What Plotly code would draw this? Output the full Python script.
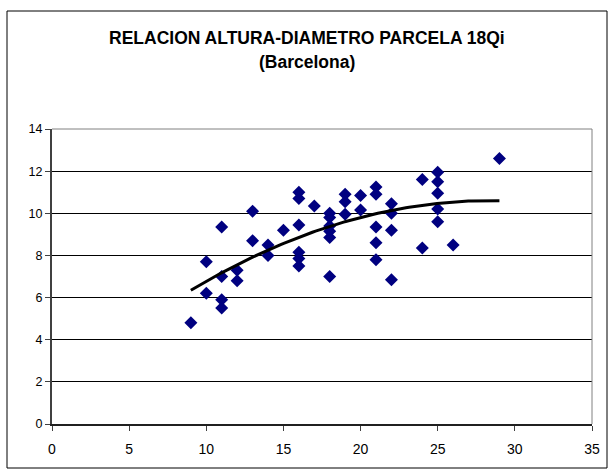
import numpy as np
import plotly.graph_objects as go

# Diameter (x) and height (y) observations
diametro = [9, 10, 10, 11, 11, 11, 11, 12, 12, 13, 13, 14, 14, 15,
            16, 16, 16, 16, 16, 16, 17, 18, 18, 18, 18, 18, 18,
            19, 19, 19, 20, 20, 21, 21, 21, 21, 21, 22, 22, 22, 22,
            24, 24, 25, 25, 25, 25, 25, 26, 29]
altura = [4.8, 7.7, 6.2, 9.35, 7.0, 5.9, 5.5, 7.3, 6.8, 10.1, 8.7, 8.5, 8.0, 9.2,
          11.0, 10.7, 9.45, 8.15, 7.85, 7.5, 10.35, 10.0, 9.8, 9.4, 9.15, 8.85, 7.0,
          10.9, 10.55, 9.95, 10.85, 10.15, 11.25, 10.9, 9.35, 8.6, 7.8, 10.45, 10.0, 9.2, 6.85,
          11.6, 8.35, 11.95, 11.5, 10.95, 10.2, 9.6, 8.5, 12.6]

x_ticks = [0, 5, 10, 15, 20, 25, 30, 35]
y_ticks = [0, 2, 4, 6, 8, 10, 12, 14]

titulo = "RELACION ALTURA-DIAMETRO PARCELA 18Qi"
subtitulo = "(Barcelona)"

# polynomial (order 2) trendline fitted from the data
coef = np.polyfit(diametro, altura, 2)
xt = np.linspace(min(diametro), max(diametro), 100)
yt = np.polyval(coef, xt)

W, H = 613, 474
L, R, T, B = 52, 21, 129, 50
PW, PH = W - L - R, H - T - B


def px(xp):
    return (xp - L) / PW


def py(yp):
    return (H - B - yp) / PH


fig = go.Figure()
fig.add_trace(go.Scatter(x=diametro, y=altura, mode="markers",
                         marker=dict(symbol="diamond", size=10, color="#000080",
                                     line=dict(width=0)),
                         showlegend=False, cliponaxis=False))
fig.add_trace(go.Scatter(x=xt, y=yt, mode="lines",
                         line=dict(color="black", width=3), showlegend=False))

fig.update_layout(
    width=W, height=H,
    margin=dict(l=L, r=R, t=T, b=B),
    paper_bgcolor="white", plot_bgcolor="white",
    font=dict(family="Liberation Sans, Arial, sans-serif", color="black", size=12),
    showlegend=False,
    annotations=[
        dict(text="<b>" + titulo + "</b>", x=px(307), xref="paper",
             y=py(38), yref="paper", showarrow=False, font=dict(size=17.5),
             xanchor="center", yanchor="middle"),
        dict(text="<b>" + subtitulo + "</b>", x=px(307), xref="paper",
             y=py(62), yref="paper", showarrow=False, font=dict(size=17.5),
             xanchor="center", yanchor="middle"),
    ],
    shapes=[
        dict(type="rect", xref="paper", yref="paper",
             x0=px(7), x1=px(607), y0=py(468), y1=py(11),
             line=dict(color="black", width=1), layer="below"),
        dict(type="line", xref="paper", yref="paper", x0=1, x1=1, y0=0, y1=1,
             line=dict(color="#808080", width=1)),
        dict(type="line", xref="paper", yref="paper", x0=0, x1=1, y0=1, y1=1,
             line=dict(color="#808080", width=1)),
    ],
)

fig.update_xaxes(range=[0, 35], tickvals=x_ticks, ticktext=[str(v) for v in x_ticks],
                 showgrid=False, zeroline=False, showline=True, linecolor="#202020",
                 linewidth=2, ticks="outside", ticklen=5, tickcolor="#404040",
                 tickfont=dict(size=14), ticklabelstandoff=6, fixedrange=True)
fig.update_yaxes(range=[0, 14], tickvals=y_ticks, ticktext=[str(v) for v in y_ticks],
                 showgrid=True, gridcolor="#000000", gridwidth=1, zeroline=False,
                 showline=True, linecolor="#404040", linewidth=2,
                 ticks="outside", ticklen=5, tickcolor="#404040",
                 tickfont=dict(size=12.5), fixedrange=True)

fig.write_html("out.html", config={"displayModeBar": False},
               post_script="document.body.style.margin='0';")
